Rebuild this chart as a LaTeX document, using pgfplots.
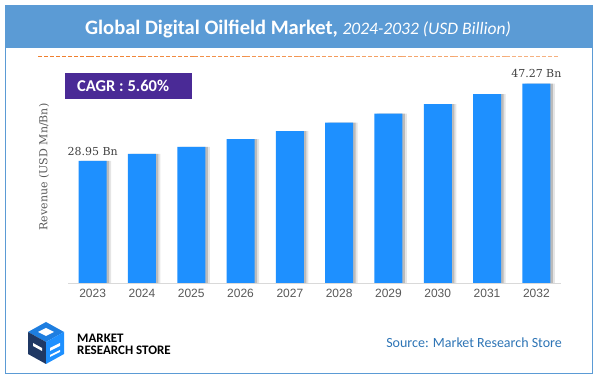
\documentclass[border=0pt]{standalone}
\usepackage{pgfplots}
\pgfplotsset{compat=1.18}
\usepackage{fontspec}
\setmainfont{Carlito}
\newfontfamily\serifdv{DejaVu Serif}
\newfontfamily\arialf{Liberation Sans}
\definecolor{framebl}{HTML}{5B9BD5}
\definecolor{barblue}{HTML}{1E90FF}
\definecolor{cagrpur}{HTML}{4A2A96}
\definecolor{dashA}{HTML}{F07F2E}
\definecolor{dashB}{HTML}{F7B789}
\definecolor{tickgray}{HTML}{595959}
\definecolor{srcblue}{HTML}{2E75B6}
\definecolor{navy}{HTML}{1F3864}
\begin{document}
\begin{tikzpicture}[x=1pt,y=1pt]
\path[use as bounding box] (0,0) rectangle (597,382);
\fill[white] (0,0) rectangle (597,382);
% frame
\draw[framebl, line width=1pt] (5,8) rectangle (592,376);
\fill[framebl] (5,334) rectangle (592,376);
\node[text=white, anchor=center] at (298,353) {\fontsize{20.5}{24}\selectfont\bfseries Global Digital Oilfield Market,\ \fontsize{17.5}{20}\selectfont\mdseries\itshape 2024-2032 (USD Billion)};
% dashed line fading to the right
\foreach \i in {0,...,9} {
  \pgfmathsetmacro{\xa}{38+52*\i}
  \pgfmathsetmacro{\xb}{38+52*(\i+1)}
  \pgfmathsetmacro{\pc}{10*\i}
  \draw[dashB!\pc!dashA, line width=1pt, dash pattern=on 4pt off 2pt] (\xa,325) -- (\xb,325);
}
% CAGR box
\fill[cagrpur] (65,283) rectangle (192,309);
\node[text=white, anchor=west, inner sep=0pt] at (77,296) {\fontsize{16.5}{18}\selectfont\bfseries CAGR : 5.60\%};
% y label
\node[rotate=90, text=tickgray] at (44,215) {\serifdv\fontsize{11}{13}\selectfont Revenue (USD Mn/Bn)};
\begin{axis}[
  at={(68pt,99pt)}, anchor=south west,
  scale only axis, width=493pt, height=211pt,
  xmin=-0.5, xmax=9.5, ymin=0, ymax=50,
  axis x line*=bottom, axis y line=none,
  axis line style={draw=gray!30, line width=0.8pt},
  xtick={0,...,9},
  xticklabels={2023,2024,2025,2026,2027,2028,2029,2030,2031,2032},
  xticklabel style={font=\arialf\fontsize{12}{12}\selectfont, text=tickgray, yshift=-3pt},
  major tick length=0pt, xtick style={draw=none},
  clip=false,
]
\addplot[ybar, bar width=28pt, bar shift=4.5pt, fill=black, fill opacity=0.10, draw=none] coordinates {(0,28.95) (1,30.57) (2,32.28) (3,34.09) (4,36.00) (5,38.02) (6,40.15) (7,42.40) (8,44.77) (9,47.27)};
\addplot[ybar, bar width=28pt, bar shift=2.5pt, fill=black, fill opacity=0.18, draw=none] coordinates {(0,28.95) (1,30.57) (2,32.28) (3,34.09) (4,36.00) (5,38.02) (6,40.15) (7,42.40) (8,44.77) (9,47.27)};
\addplot[ybar, bar width=28pt, bar shift=0pt, fill=barblue, draw=none] coordinates {(0,28.95) (1,30.57) (2,32.28) (3,34.09) (4,36.00) (5,38.02) (6,40.15) (7,42.40) (8,44.77) (9,47.27)};
\addplot[draw=none, mark=none, nodes near coords, point meta=explicit symbolic,
  nodes near coords style={font=\serifdv\fontsize{11}{13}\selectfont, text=black!75, anchor=south, yshift=2pt}]
  coordinates {(0,28.95) [28.95 Bn] (9,47.27) [47.27 Bn]};
\end{axis}
% logo icon
\fill[barblue!80!navy] (28,50) -- (46,60) -- (64,50) -- (46,40) -- cycle;
\fill[navy] (28,50) -- (46,40) -- (46,18) -- (28,28) -- cycle;
\fill[barblue] (46,40) -- (64,50) -- (64,28) -- (46,18) -- cycle;
\fill[white] (33,36) -- (42,31) -- (42,34) -- (33,39) -- cycle;
\fill[white] (50,31) -- (60,36) -- (60,39) -- (50,34) -- cycle;
\fill[white] (50,25) -- (60,30) -- (60,32) -- (50,27) -- cycle;
\fill[white] (38,50) -- (46,54) -- (54,50) -- (46,46) -- cycle;
\node[anchor=south west, inner sep=0pt, align=left, font=\fontsize{13}{12}\selectfont\bfseries] at (77,27) {MARKET\\RESEARCH STORE};
\node[anchor=east, text=srcblue, inner sep=0pt] at (562,39) {\fontsize{14}{16}\selectfont Source: Market Research Store};
\end{tikzpicture}
\end{document}
